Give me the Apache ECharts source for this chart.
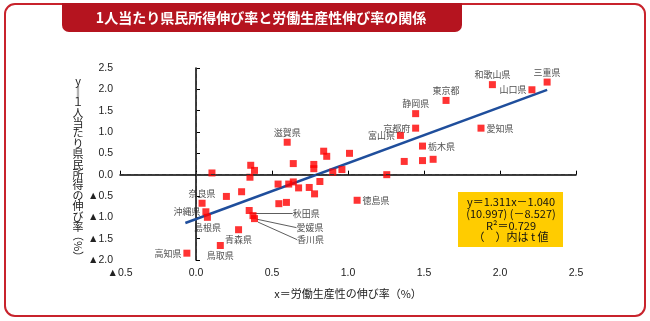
<!DOCTYPE html>
<html><head><meta charset="utf-8">
<script src="https://cdn.jsdelivr.net/npm/echarts/dist/echarts.min.js"></script>
<style>html,body{margin:0;padding:0;background:#fff}#c{width:650px;height:321px}</style>
</head><body><div id="c"></div>
<script>
// ---- Data ----
const titleText = '1人当たり県民所得伸び率と労働生産性伸び率の関係';
const xAxisName = 'x＝労働生産性の伸び率（%）';
const yAxisNameChars = ['y','‖','１','人','当','た','り','県','民','所','得','の','伸','び','率'];
const yAxisNameTail = '（%）';
const prefNames = ['三重県','山口県','和歌山県','東京都','静岡県','京都府','富山県','愛知県','栃木県',
  '','','','','','','徳島県','滋賀県',
  '','','','','','','','','','','','','','','','','','','',
  '奈良県','','','沖縄県','島根県','秋田県','愛媛県','香川県','青森県','鳥取県','高知県'];
const xVals = [2.31,2.21,1.95,1.645,1.445,1.445,1.345,1.875,1.49,1.01,1.37,1.49,1.56,0.96,1.255,1.06,0.60,
  0.105,0.36,0.385,0.355,0.64,0.775,0.775,0.84,0.86,0.90,0.54,0.61,0.64,0.675,0.745,0.815,0.78,0.30,0.20,
  0.04,0.545,0.595,0.065,0.075,0.35,0.375,0.385,0.28,0.16,-0.06];
const yVals = [2.17,1.99,2.11,1.74,1.43,1.09,0.92,1.09,0.67,0.50,0.31,0.33,0.36,0.12,0.00,-0.60,0.76,
  0.04,0.22,0.10,-0.06,0.26,0.24,0.14,0.55,0.43,0.06,-0.22,-0.22,-0.17,-0.31,-0.30,-0.16,-0.45,-0.40,-0.51,
  -0.67,-0.68,-0.65,-0.87,-1.00,-0.84,-0.96,-1.03,-1.29,-1.66,-1.84];
const regSlope = 1.311;
const regIntercept = -1.040;
const regRange = [-0.07, 2.31];
const eqLines = ['y＝1.311x－1.040', '(10.997) (－8.527)', 'R²＝0.729', '（　）内は t 値'];

// ---- Label placement (layout only) ----
const labelPlace = {
  '三重県':{position:'top'}, '山口県':{position:'left'}, '和歌山県':{position:'top'},
  '東京都':{position:'top'}, '静岡県':{position:'top'}, '京都府':{position:'left', offset:[0,-4]},
  '富山県':{position:'left'}, '愛知県':{position:'right'}, '栃木県':{position:'right'},
  '徳島県':{position:'right'}, '滋賀県':{position:'top'}, '奈良県':{position:'top'},
  '沖縄県':{position:'left'}, '島根県':{position:'bottom', offset:[10,0]},
  '青森県':{position:'bottom'}, '鳥取県':{position:'bottom'}, '高知県':{position:'left'},
  '秋田県':{position:'right'}, '愛媛県':{position:'right'}, '香川県':{position:'right'}
};
const leaderOffsets = { '秋田県':[38,3], '愛媛県':[38,12], '香川県':[37,21] };

const jp = '"Noto Sans CJK JP", sans-serif';
const num = '"Liberation Sans", Arial, sans-serif';

const scatterData = xVals.map((x, i) => {
  const n = prefNames[i];
  const item = { name: n, value: [x, yVals[i]] };
  if (n && labelPlace[n]) {
    item.label = Object.assign({ show: true, distance: 2 }, labelPlace[n]);
    if (leaderOffsets[n]) item.labelLine = { show: true, lineStyle: { color: '#333', width: 0.8 } };
  }
  return item;
});
const regData = regRange.map(x => [x, regSlope * x + regIntercept]);

const fmt = v => (v < 0 ? '▲' + Math.abs(v).toFixed(1) : v.toFixed(1));

const chart = echarts.init(document.getElementById('c'));
chart.setOption({
  animation: false,
  backgroundColor: '#fff',
  grid: { left: 120, right: 74, top: 68, bottom: 61 },
  xAxis: {
    type: 'value', min: -0.5, max: 2.5, interval: 0.5,
    name: xAxisName, nameLocation: 'middle', nameGap: 28,
    nameTextStyle: { fontFamily: jp, fontSize: 11, color: '#222' },
    axisLine: { lineStyle: { color: '#000', width: 1.5 } },
    axisTick: { inside: true, length: 4, lineStyle: { color: '#000' } },
    axisLabel: { formatter: fmt, fontFamily: num, fontSize: 10.5, color: '#222', margin: 8 },
    splitLine: { show: false }
  },
  yAxis: {
    type: 'value', min: -2, max: 2.5, interval: 0.5,
    axisLine: { show: true, lineStyle: { color: '#000', width: 1.5 } },
    axisTick: { show: true, inside: true, length: 4, lineStyle: { color: '#000' } },
    axisLabel: { formatter: fmt, fontFamily: num, fontSize: 10.5, color: '#222', margin: 7 },
    splitLine: { show: false }
  },
  graphic: [
    { type: 'rect', shape: { x: 5, y: 4, width: 640, height: 312, r: 10 },
      style: { fill: 'none', stroke: '#c8232c', lineWidth: 2 }, z: 0 },
    { type: 'rect', shape: { x: 62, y: 3, width: 400, height: 29, r: [0,0,7,7] },
      style: { fill: '#b5141f' }, z: 1 },
    { type: 'text', x: 261, y: 18,
      style: { text: titleText, fill: '#fff', font: 'bold 14px ' + jp, align: 'center', verticalAlign: 'middle' }, z: 2 },
    { type: 'text', x: 78, y: 76,
      style: { text: yAxisNameChars.join('\n'), fill: '#222', font: '11px ' + jp, align: 'center', verticalAlign: 'top', lineHeight: 10.4 } },
    { type: 'text', x: 78, y: 246, rotation: -Math.PI / 2,
      style: { text: yAxisNameTail, fill: '#222', font: '11px ' + jp, align: 'center', verticalAlign: 'middle' } },
    { type: 'rect', shape: { x: 458, y: 192, width: 105, height: 55 },
      style: { fill: '#ffcc00' }, z: 5 },
    { type: 'text', x: 511, y: 196,
      style: { text: eqLines.join('\n'), fill: '#111', font: '11px ' + jp, align: 'center', verticalAlign: 'top', lineHeight: 11.8 }, z: 6 }
  ],
  series: [
    {
      type: 'line', data: regData, symbol: 'none', silent: true, z: 2,
      lineStyle: { color: '#1f4e9c', width: 2.5 },
      markLine: {
        silent: true, symbol: 'none', label: { show: false },
        lineStyle: { color: '#333', type: [4, 3], width: 1 },
        data: [{ xAxis: 0 }, { yAxis: 0 }]
      }
    },
    {
      type: 'scatter', data: scatterData, symbol: 'rect', symbolSize: 7, z: 3,
      itemStyle: { color: '#ff0000' },
      label: { show: false, formatter: '{b}', fontFamily: jp, fontSize: 9, color: '#222' },
      labelLine: { show: false, lineStyle: { color: '#333', width: 0.8 } },
      labelLayout: function (p) {
        const off = leaderOffsets[prefNames[p.dataIndex]];
        return off ? { dx: off[0], dy: off[1] } : {};
      }
    }
  ]
});
</script>
</body></html>
